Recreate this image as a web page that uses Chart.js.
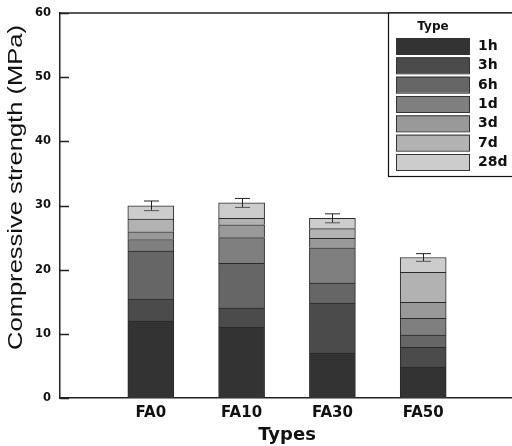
<!DOCTYPE html>
<html>
<head>
<meta charset="utf-8">
<script src="https://cdn.jsdelivr.net/npm/chart.js@4/dist/chart.umd.min.js"></script>
<style>
  html, body { margin: 0; padding: 0; background: #fff; overflow: hidden; }
  #wrap { width: 518px; height: 446px; }
</style>
</head>
<body>
<div id="wrap"><canvas id="chart"></canvas></div>
<script>
const categories = ['FA0', 'FA10', 'FA30', 'FA50'];
const ages = ['1h', '3h', '6h', '1d', '3d', '7d', '28d'];
const colors = ['#333333', '#4b4b4b', '#666666', '#7f7f7f', '#999999', '#b2b2b2', '#cccccc'];

// strength reached at each age (MPa)
const s1h = [12, 11, 7, 4.8];
const s3h = [15.4, 14, 14.8, 7.9];
const s6h = [22.9, 21, 17.9, 9.8];
const s1d = [24.7, 25, 23.4, 12.4];
const s3d = [25.9, 27, 24.9, 14.9];
const s7d = [27.9, 28, 26.4, 19.6];
const s28d = [29.95, 30.4, 28, 21.9];
const err28d = [0.75, 0.7, 0.7, 0.6];

const yTicks = [0, 10, 20, 30, 40, 50, 60];

const series = [s1h, s3h, s6h, s1d, s3d, s7d, s28d];

const datasets = series.map((vals, k) => {
  const below = k === 0 ? null : series[k - 1];
  return {
    label: ages[k],
    data: categories.map((c, i) => ({ x: i + 1, y: [below ? below[i] : 0, vals[i]] })),
    backgroundColor: colors[k],
    borderColor: '#2a2a2a',
    borderWidth: { top: 1, left: 1, right: 1, bottom: 0 },
    borderSkipped: false,
    barThickness: 46,
    grouped: false
  };
});

// inward ticks on y, top frame line, y title
const framePlugin = {
  id: 'frame',
  afterDraw(chart) {
    const ctx = chart.ctx;
    const area = chart.chartArea;
    const y = chart.scales.y;
    ctx.save();
    ctx.strokeStyle = '#222';
    ctx.lineWidth = 1.5;
    ctx.beginPath();
    ctx.moveTo(area.left, area.top);
    ctx.lineTo(area.right, area.top);
    yTicks.forEach(t => {
      const py = Math.round(y.getPixelForValue(t)) + 0.5;
      ctx.moveTo(area.left, py);
      ctx.lineTo(area.left + 9, py);
    });
    ctx.stroke();

    ctx.translate(16.5, 187.5);
    ctx.rotate(-Math.PI / 2);
    ctx.font = '20px "Liberation Sans", Arial, sans-serif';
    const txt = 'Compressive strength (MPa)';
    const w = ctx.measureText(txt).width;
    ctx.scale(325 / w, 1);
    ctx.fillStyle = '#111';
    ctx.textAlign = 'center';
    ctx.textBaseline = 'middle';
    ctx.fillText(txt, 0, 0);
    ctx.restore();
  }
};

const errorPlugin = {
  id: 'errorBars',
  afterDatasetsDraw(chart) {
    const ctx = chart.ctx;
    const y = chart.scales.y;
    const meta = chart.getDatasetMeta(series.length - 1);
    ctx.save();
    ctx.lineWidth = 1;
    meta.data.forEach((bar, i) => {
      const x = Math.round(bar.x) + 0.5;
      const hi = y.getPixelForValue(s28d[i] + err28d[i]);
      const lo = y.getPixelForValue(s28d[i] - err28d[i]);
      ctx.strokeStyle = '#222';
      ctx.beginPath();
      ctx.moveTo(x, hi);
      ctx.lineTo(x, lo);
      ctx.moveTo(x - 7.5, hi);
      ctx.lineTo(x + 7.5, hi);
      ctx.stroke();
      ctx.strokeStyle = '#555';
      ctx.beginPath();
      ctx.moveTo(x - 7.5, lo);
      ctx.lineTo(x + 7.5, lo);
      ctx.stroke();
    });
    ctx.restore();
  }
};

const legendPlugin = {
  id: 'boxLegend',
  afterDraw(chart) {
    const ctx = chart.ctx;
    const top = chart.chartArea.top;
    ctx.save();
    ctx.fillStyle = '#fff';
    ctx.fillRect(388.5, top, 140, 163.5);
    ctx.strokeStyle = '#111';
    ctx.lineWidth = 1.2;
    ctx.strokeRect(388.5, top, 140, 163.5);
    ctx.fillStyle = '#111';
    ctx.font = 'bold 12px "DejaVu Sans", sans-serif';
    ctx.textAlign = 'center';
    ctx.textBaseline = 'middle';
    ctx.fillText('Type', 433, top + 14);
    ctx.textAlign = 'left';
    ctx.font = 'bold 14px "DejaVu Sans", sans-serif';
    chart.data.datasets.forEach((ds, k) => {
      const sy = top + 25 + k * 19.33;
      ctx.fillStyle = ds.backgroundColor;
      ctx.fillRect(396, sy, 73, 16);
      ctx.strokeStyle = '#333';
      ctx.lineWidth = 1;
      ctx.strokeRect(396.5, sy + 0.5, 73, 16);
      ctx.fillStyle = '#111';
      ctx.fillText(ds.label, 478, sy + 8.5);
    });
    ctx.restore();
  }
};

new Chart(document.getElementById('chart'), {
  type: 'bar',
  data: { datasets: datasets },
  options: {
    responsive: true,
    maintainAspectRatio: false,
    animation: false,
    layout: { padding: { top: 13, right: 4, left: 0, bottom: 0 } },
    scales: {
      x: {
        type: 'linear',
        min: 0,
        max: 5,
        offset: false,
        afterFit: s => { s.height = 48; s.paddingLeft = 0; s.paddingRight = 0; },
        grid: { display: false, drawTicks: false },
        border: { display: true, color: '#222', width: 1.5 },
        ticks: {
          stepSize: 1,
          autoSkip: false,
          padding: 6,
          color: '#111',
          font: { family: '"DejaVu Sans", sans-serif', size: 15, weight: 'bold' },
          callback: v => categories[v - 1] || ''
        },
        title: {
          display: true,
          text: 'Types',
          color: '#111',
          padding: 0,
          font: { family: '"DejaVu Sans", sans-serif', size: 18, weight: 'bold' }
        }
      },
      y: {
        min: 0,
        max: 60,
        afterFit: s => { s.width = 60; s.paddingTop = 0; s.paddingBottom = 0; },
        grid: { display: false, drawTicks: false },
        border: { display: true, color: '#222', width: 1.5 },
        ticks: {
          stepSize: 10,
          padding: 9,
          color: '#111',
          font: { family: '"DejaVu Sans", sans-serif', size: 11.5, weight: 'bold' }
        }
      }
    },
    plugins: {
      legend: { display: false },
      tooltip: { enabled: false }
    }
  },
  plugins: [framePlugin, errorPlugin, legendPlugin]
});
</script>
</body>
</html>
